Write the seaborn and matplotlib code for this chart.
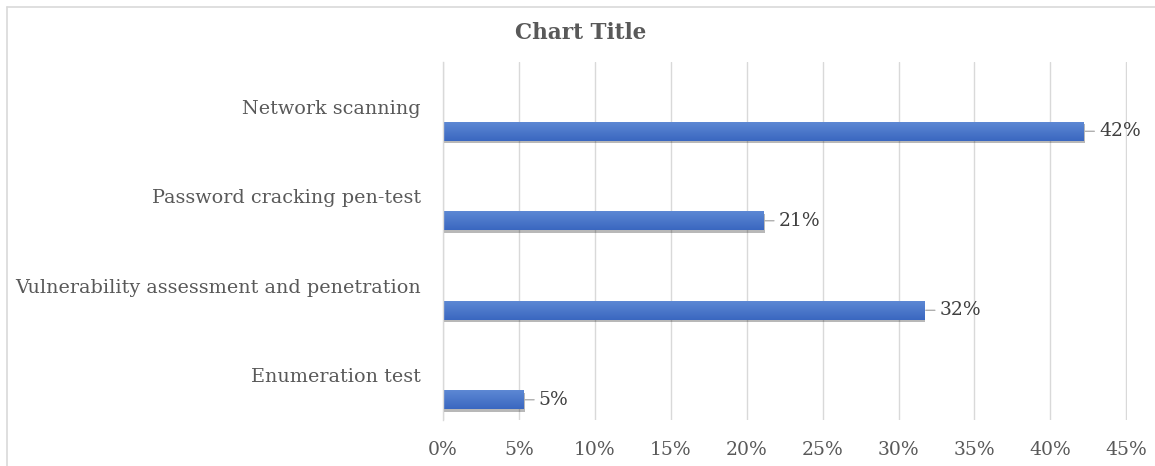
import matplotlib
matplotlib.use("Agg")
import matplotlib.pyplot as plt
import matplotlib.patheffects as pe
from matplotlib.lines import Line2D
from matplotlib.colors import LinearSegmentedColormap
from matplotlib.ticker import PercentFormatter
import numpy as np
import pandas as pd
import seaborn as sns

# Share of tests performed, by test type
categories = [
    "Network scanning",
    "Password cracking pen-test",
    "Vulnerability assessment and penetration",
    "Enumeration test",
]
shares = [0.422, 0.211, 0.317, 0.053]
x_ticks = [0.00, 0.05, 0.10, 0.15, 0.20, 0.25, 0.30, 0.35, 0.40, 0.45]
title = "Chart Title"

df = pd.DataFrame({"category": categories, "share": shares})

sns.set_theme(style="white")
plt.rcParams["font.family"] = ["DejaVu Serif"]

text_grey = "#595959"
grid_grey = "#d9d9d9"
bar_blue = "#4472C4"

fig = plt.figure(figsize=(11.55, 4.66), dpi=100)
fig.patch.set_facecolor("white")
ax = fig.add_axes([0.3836, 0.0987, 0.5922, 0.7683])

sns.barplot(data=df, x="share", y="category", orient="h", order=categories,
            color=bar_blue, saturation=1, width=0.21, ax=ax,
            edgecolor="none", linewidth=0)

# Soft drop shadow and a top-to-bottom gradient fill on each bar
gradient = LinearSegmentedColormap.from_list("bar_grad", ["#5d88d4", "#3a67c0"])
for patch in list(ax.patches):
    patch.set_path_effects([
        pe.SimplePatchShadow(offset=(0.8, -1.8), shadow_rgbFace="#000000", alpha=0.28),
        pe.Normal(),
    ])
    x0, y0 = patch.get_x(), patch.get_y()
    w, h = patch.get_width(), patch.get_height()
    img = ax.imshow(np.linspace(0, 1, 64).reshape(-1, 1), cmap=gradient,
                    extent=(x0, x0 + w, y0 + h, y0), origin="upper",
                    aspect="auto", interpolation="bilinear", zorder=patch.get_zorder() + 0.1)
    img.set_clip_path(patch)

# Category labels sit in the upper part of each band, bars in the lower part
offset = 0.274
ax.set_yticks([i - offset for i in range(len(categories))])
ax.set_yticklabels(categories)
ax.set_ylim(len(categories) - 1 + 0.226, -0.774)

ax.set_xlim(x_ticks[0], x_ticks[-1] + 0.0005)
ax.set_xticks(x_ticks)
ax.xaxis.set_major_formatter(PercentFormatter(1.0, decimals=0))

ax.grid(axis="x", color=grid_grey, linewidth=1.0)
ax.grid(axis="y", visible=False)
ax.set_axisbelow(True)
for side in ["top", "right", "bottom"]:
    ax.spines[side].set_visible(False)
ax.spines["left"].set_color(grid_grey)
ax.spines["left"].set_linewidth(1.0)

ax.tick_params(axis="x", length=0, pad=15, labelsize=13.5, labelcolor=text_grey)
ax.tick_params(axis="y", length=0, pad=16, labelsize=13.8, labelcolor=text_grey)
ax.set_xlabel("")
ax.set_ylabel("")

# Value labels with short leader lines
for i, v in enumerate(shares):
    ax.annotate(f"{v:.0%}", xy=(v, i), xytext=(11, 0), textcoords="offset points",
                ha="left", va="center", fontsize=13.5, color="#404040",
                arrowprops=dict(arrowstyle="-", color="#a6a6a6", lw=0.9,
                                shrinkA=1, shrinkB=1))

fig.text(0.503, 0.93, title, ha="center", va="center", fontsize=15.5,
         fontweight="bold", color=text_grey)

# Chart border (top and left edges)
for xs, ys in [((0.006, 1.0), (0.985, 0.985)), ((0.006, 0.006), (0.0, 0.985))]:
    fig.add_artist(Line2D(xs, ys, transform=fig.transFigure, color=grid_grey, linewidth=1.2))

fig.savefig("out.png", dpi=100)
